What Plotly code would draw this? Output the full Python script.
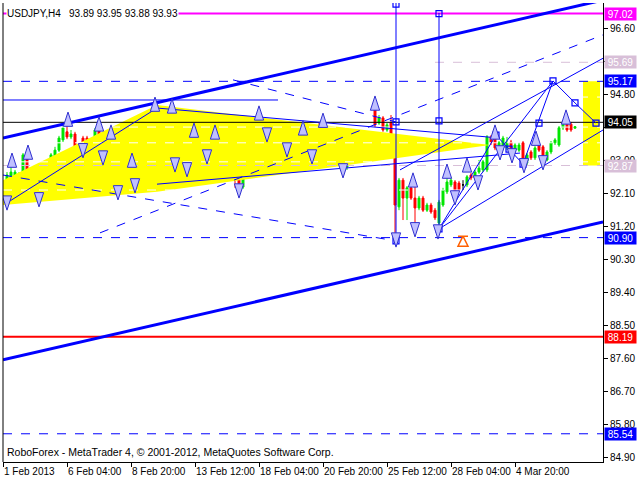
import plotly.graph_objects as go

# ---------------- data ----------------
opens = [92.28,91.79,92.53,92.56,92.56,92.56,93.10,92.75,92.47,92.34,92.47,92.34,92.83,93.10,93.29,93.57,93.79,93.65,93.73,93.29,
         93.62,93.62,93.29,93.51,93.84,93.16,93.29,93.65,93.57,93.24,92.56,92.61,92.75,92.69,92.61,92.56,93.08,93.29,93.51,94.33,
         94.25,93.90,94.33,93.92,93.24,93.43,93.35,93.08,93.35,93.43,93.49,93.35,93.49,93.62,93.57,93.24,93.16,92.88,92.75,92.53,
         92.28,93.35,93.51,93.65,94.11,93.84,94.03,93.84,93.92,93.92,93.76,93.65,93.57,93.49,93.49,93.51,93.70,93.21,93.35,93.76,
         93.70,93.65,93.49,93.51,93.38,93.10,92.83,93.10,93.02,93.16,93.21,93.29,93.43,94.52,94.03,94.17,93.84,94.03,93.38,91.74,
         92.47,91.98,92.26,91.98,91.71,91.98,91.65,91.79,91.65,91.30,91.79,92.15,92.34,92.42,92.39,92.34,92.34,92.61,92.53,92.69,
         92.75,92.75,93.65,93.65,93.35,93.35,93.35,93.51,93.29,93.29,93.49,92.94,93.24,93.08,93.43,93.38,93.02,93.24,93.49,93.43,
         93.90,94.06,94.00,93.89]
highs = [92.34,92.69,92.94,92.75,92.69,93.21,93.16,92.80,92.53,92.53,92.53,92.88,93.21,93.38,93.68,93.95,94.06,93.84,93.79,93.49,
         93.68,93.68,93.57,93.90,93.90,93.57,93.68,93.76,93.62,93.29,92.75,92.80,92.80,92.75,92.67,93.13,93.35,93.57,94.50,94.44,
         94.30,94.22,94.39,93.98,93.49,93.49,93.40,93.76,93.76,93.70,93.54,93.57,93.65,93.68,93.62,93.29,93.21,92.94,92.80,92.58,
         93.57,93.70,93.62,94.17,94.17,94.09,94.09,94.03,93.98,93.98,93.81,93.70,93.62,93.59,93.68,93.90,94.03,93.43,93.76,94.03,
         94.03,93.70,93.70,93.57,93.43,93.16,93.16,93.16,93.29,93.40,93.43,93.49,93.49,94.58,94.25,94.22,94.03,94.25,93.43,92.53,
         92.53,92.31,92.31,92.39,92.04,92.04,91.85,91.85,91.71,91.93,92.26,92.61,92.53,92.47,92.45,92.47,92.61,92.67,92.75,93.02,
         93.02,93.70,93.70,93.70,93.54,93.68,93.65,93.57,93.49,93.49,93.54,93.21,93.29,93.40,93.49,93.43,93.29,93.54,93.62,93.95,
         94.11,94.11,94.06,93.95]
lows = [91.93,91.71,92.42,92.47,92.50,92.50,92.64,92.50,92.15,91.98,92.28,92.28,92.78,93.05,93.24,93.51,93.59,93.59,93.24,93.24,
        93.29,93.18,93.24,93.46,93.38,93.08,93.24,93.59,93.16,92.12,92.26,92.53,92.34,92.34,92.47,92.50,93.02,93.24,93.46,94.11,
        93.84,93.84,93.38,92.94,93.18,93.18,92.80,93.02,93.29,93.38,93.29,93.29,93.29,93.24,93.16,92.97,92.83,92.64,92.26,92.20,
        92.23,93.29,93.29,93.59,93.84,93.79,93.79,93.79,93.87,93.51,93.51,93.43,93.43,93.38,93.43,93.46,93.51,93.16,93.29,93.51,
        93.46,93.43,93.43,93.29,93.02,92.75,92.75,92.97,92.97,93.10,93.16,93.24,93.32,93.92,93.98,93.79,93.79,93.32,90.89,91.65,
        91.38,91.38,91.93,91.11,91.65,91.60,91.60,91.55,91.38,91.16,91.74,92.09,92.28,92.01,92.15,92.20,92.28,92.47,92.47,92.64,
        92.69,92.69,93.43,93.29,93.29,93.29,93.29,93.16,93.24,93.24,92.88,92.88,93.02,93.02,93.24,92.97,92.97,93.18,93.43,93.38,
        93.84,93.79,93.79,93.88]
closes = [92.06,92.61,92.69,92.69,92.64,93.16,92.69,92.56,92.34,92.47,92.34,92.83,93.16,93.29,93.62,93.90,93.65,93.73,93.29,93.43,
          93.35,93.24,93.51,93.84,93.43,93.49,93.62,93.70,93.21,92.67,92.69,92.75,92.53,92.53,92.53,93.08,93.29,93.51,94.44,94.20,
          93.90,94.17,93.43,93.21,93.43,93.24,93.08,93.29,93.65,93.62,93.35,93.51,93.49,93.29,93.21,93.02,92.88,92.69,92.53,92.28,
          93.51,93.51,93.43,94.11,93.90,94.03,93.84,93.98,93.92,93.57,93.57,93.49,93.49,93.49,93.62,93.84,93.57,93.38,93.70,93.57,
          93.51,93.49,93.65,93.35,93.08,92.83,93.10,93.02,93.24,93.35,93.35,93.43,93.38,93.98,94.17,93.84,93.98,93.38,91.79,92.47,
          91.98,92.26,91.98,91.71,91.98,91.65,91.79,91.60,91.44,91.87,92.20,92.42,92.47,92.06,92.20,92.34,92.56,92.53,92.69,92.80,
          92.97,93.65,93.49,93.35,93.49,93.62,93.49,93.29,93.43,93.43,92.94,93.16,93.08,93.35,93.29,93.02,93.24,93.49,93.57,93.90,
          94.06,93.84,93.84,93.93]
doji_bars = [52, 68, 73, 115]

tick_bars = [0, 16, 32, 48, 64, 80, 96, 112, 128]
tick_labels = ["1 Feb 2013", "6 Feb 04:00", "8 Feb 20:00", "13 Feb 12:00", "18 Feb 04:00",
               "20 Feb 20:00", "25 Feb 12:00", "28 Feb 04:00", "4 Mar 20:00"]
y_ticks = [84.90, 85.80, 86.70, 87.60, 88.50, 89.40, 90.30, 91.20, 92.10, 93.00, 93.90, 94.80, 95.70, 96.60]
y_hidden = [93.90, 95.70]   # tick labels covered by level labels

# horizontal levels: price, colour, dash, width, start bar, end bar
levels = [
    (97.02, "#FF00FF", "solid", 2, 0, 150),
    (95.69, "#D8BFD8", "dash", 1, 108, 150),
    (95.17, "#0000FF", "dash", 1, 0, 150),
    (94.05, "#000000", "solid", 1, 0, 150),
    (92.87, "#D8BFD8", "dash", 1, 0, 150),
    (90.90, "#0000FF", "dash", 1, 0, 150),
    (88.19, "#FF0000", "solid", 2, 0, 150),
    (85.54, "#0000FF", "dash", 1, 0, 150),
    (94.66, "#0000FF", "solid", 1, 0, 68.75),
]
label_levels = [(97.02, "#FF00FF"), (95.69, "#D8BFD8"), (95.17, "#0000FF"), (94.05, "#000000"),
                (92.87, "#D8BFD8"), (90.90, "#0000FF"), (88.19, "#FF0000"), (85.54, "#0000FF")]
# white dashed guide levels (only visible over the yellow zones)
white_levels = [94.74, 93.92, 93.49, 92.97, 92.20]

# yellow zones (bar, price)
yellow_tri_x = [0, 38.5, 121.75, 38.5, 0]
yellow_tri_y = [92.47, 94.52, 93.43, 92.15, 91.79]
yellow_box_x = [145, 149.25, 149.25, 145]
yellow_box_y = [95.17, 95.17, 92.87, 92.87]

# thick channel lines
channel = [((0, 93.62), (150, 97.39)), ((0, 87.56), (150, 91.33))]

# thin solid lines
solid_lines = [
    ((1, 91.85), (38.5, 94.44)),
    ((38.5, 94.44), (124.25, 93.62)),
    ((38.5, 92.36), (129.25, 93.21)),
    ((98.25, 97.31), (98.25, 90.81)),
    ((109, 97.04), (109, 91.14)),
    ((109, 91.14), (137.5, 95.18)),
    ((109, 91.14), (150, 93.84)),
    ((99.25, 92.75), (150, 95.80)),
]
# wave path (bar, price)
wave_x = [109, 123.25, 130, 137.5, 143, 148.25]
wave_y = [91.14, 93.70, 92.91, 95.18, 94.58, 94.03]

# thin dashed lines
dashed_lines = [
    ((24.25, 91.03), (150, 96.44)),
    ((0, 92.61), (98.25, 90.81)),
    ((57.5, 95.21), (98.25, 94.06)),
]
squares_x = [98.25, 98.25, 98.25, 109, 109, 109, 123.25, 126.5, 130, 134, 137.5, 143, 148.25]
squares_y = [97.28, 94.06, 90.81, 97.02, 94.09, 91.14, 93.70, 93.32, 92.91, 94.03, 95.18, 94.58, 94.03]

up_x = [2.25, 6.25, 16.25, 24, 27, 32.25, 38, 42.25, 47.75, 53, 64, 75, 80, 93, 102.5, 111, 116, 123, 133.25, 140.75]
up_y = [93.21, 93.43, 94.33, 94.20, 93.98, 93.21, 94.74, 94.69, 94.03, 93.98, 94.50, 94.09, 94.30, 94.77, 92.67, 92.91, 93.08, 93.98, 93.81, 94.39]
dn_x = [1, 9, 20, 25, 28.75, 33, 43, 46, 51, 59, 66, 71, 77.25, 85, 98.25, 103, 108.75, 113, 118.75, 124.25, 127.25, 130.25, 135]
dn_y = [91.65, 91.74, 93.08, 92.88, 91.93, 92.12, 92.69, 92.56, 92.91, 91.98, 93.51, 93.10, 92.91, 92.53, 90.64, 90.92, 90.86, 91.79, 92.20, 93.02, 92.94, 92.67, 92.75]
buy_x = [115]
buy_y = [90.94]

# ---------------- figure ----------------
FONT = "Liberation Sans"
fig = go.Figure()

fig.add_trace(go.Scatter(x=yellow_tri_x, y=yellow_tri_y, fill="toself", fillcolor="#FFFF00",
                         mode="none", hoverinfo="skip"))
fig.add_trace(go.Scatter(x=yellow_box_x, y=yellow_box_y, fill="toself", fillcolor="#FFFF00",
                         mode="none", hoverinfo="skip"))
for p in white_levels:
    fig.add_trace(go.Scatter(x=[0, 150], y=[p, p], mode="lines",
                             line=dict(color="white", dash="dash", width=1), hoverinfo="skip"))

for (p, col, dash, w, b0, b1) in levels:
    fig.add_trace(go.Scatter(x=[b0, b1], y=[p, p], mode="lines",
                             line=dict(color=col, dash=dash, width=w), hoverinfo="skip"))

for (a, b) in solid_lines:
    fig.add_trace(go.Scatter(x=[a[0], b[0]], y=[a[1], b[1]], mode="lines",
                             line=dict(color="#0000FF", width=1), hoverinfo="skip"))
fig.add_trace(go.Scatter(x=wave_x, y=wave_y, mode="lines",
                         line=dict(color="#0000FF", width=1), hoverinfo="skip"))
for (a, b) in dashed_lines:
    fig.add_trace(go.Scatter(x=[a[0], b[0]], y=[a[1], b[1]], mode="lines",
                             line=dict(color="#0000FF", width=1, dash="dash"), hoverinfo="skip"))
for (a, b) in channel:
    fig.add_trace(go.Scatter(x=[a[0], b[0]], y=[a[1], b[1]], mode="lines",
                             line=dict(color="#0000FF", width=3), hoverinfo="skip"))

idx = list(range(len(opens)))
norm = [i for i in idx if i not in doji_bars]
fig.add_trace(go.Candlestick(
    x=norm, open=[opens[i] for i in norm], high=[highs[i] for i in norm],
    low=[lows[i] for i in norm], close=[closes[i] for i in norm],
    increasing=dict(line=dict(color="#00E600", width=1), fillcolor="#00E600"),
    decreasing=dict(line=dict(color="#FF0000", width=1), fillcolor="#FF0000"),
    whiskerwidth=0, hoverinfo="skip"))
fig.add_trace(go.Candlestick(
    x=doji_bars, open=[opens[i] for i in doji_bars], high=[highs[i] for i in doji_bars],
    low=[lows[i] for i in doji_bars], close=[closes[i] for i in doji_bars],
    increasing=dict(line=dict(color="#000000", width=1), fillcolor="#000000"),
    decreasing=dict(line=dict(color="#000000", width=1), fillcolor="#000000"),
    whiskerwidth=0, hoverinfo="skip"))

fig.add_trace(go.Scatter(x=squares_x, y=squares_y, mode="markers",
                         marker=dict(symbol="square-open", size=6, color="#0000FF", line=dict(width=1.2)),
                         hoverinfo="skip"))
fig.add_trace(go.Scatter(x=up_x, y=up_y, mode="markers",
                         marker=dict(symbol="arrow", size=15, color="#C0C0FF",
                                     line=dict(color="#3030D0", width=1)), hoverinfo="skip"))
fig.add_trace(go.Scatter(x=dn_x, y=dn_y, mode="markers",
                         marker=dict(symbol="arrow", angle=180, size=15, color="#C0C0FF",
                                     line=dict(color="#3030D0", width=1)), hoverinfo="skip"))
fig.add_trace(go.Scatter(x=buy_x, y=buy_y, mode="markers",
                         marker=dict(symbol="arrow-bar-up-open", size=10, color="#FF6000",
                                     line=dict(width=1.5)), hoverinfo="skip"))

annotations = []
for (p, col) in label_levels:
    annotations.append(dict(x=1, xref="paper", y=p, yref="y", xanchor="left", yanchor="middle",
                            text=f"{p:.2f}", showarrow=False, bgcolor=col, width=31, height=12,
                            font=dict(family=FONT, size=10, color="white"), borderpad=0, xshift=1))
annotations.append(dict(x=0, xref="paper", y=1, yref="paper", xanchor="left", yanchor="top",
                        text="USDJPY,H4\u00a0\u00a0 93.89 93.95 93.88 93.93", showarrow=False,
                        bgcolor="white", font=dict(family=FONT, size=10, color="black"),
                        xshift=3, yshift=-4, borderpad=0))
annotations.append(dict(x=0, xref="paper", y=0, yref="paper", xanchor="left", yanchor="bottom",
                        text="RoboForex - MetaTrader 4, © 2001-2012, MetaQuotes Software Corp.",
                        showarrow=False, font=dict(family=FONT, size=10.5, color="black"),
                        xshift=2, yshift=2))

fig.update_layout(
    width=640, height=480, margin=dict(l=3, r=37, t=3, b=18),
    paper_bgcolor="white", plot_bgcolor="white", showlegend=False,
    annotations=annotations,
    shapes=[dict(type="line", xref="paper", yref="paper", x0=0, x1=0, y0=0, y1=1,
                 line=dict(color="black", width=1))],
    xaxis=dict(range=[0, 150], tickvals=tick_bars, ticktext=tick_labels, ticks="outside",
               ticklen=4, tickcolor="black", showgrid=False, zeroline=False, showline=True,
               linecolor="black", ticklabelposition="outside right", tickangle=0,
               automargin=False, rangeslider=dict(visible=False),
               tickfont=dict(family=FONT, size=10, color="black")),
    yaxis=dict(range=[84.769, 97.310], side="right", tickvals=y_ticks,
               ticktext=["" if v in y_hidden else f"{v:.2f}" for v in y_ticks],
               ticks="outside", ticklen=4, automargin=False,
               tickcolor="black", showgrid=False, zeroline=False, showline=True, linecolor="black",
               tickfont=dict(family=FONT, size=10, color="black")),
)

fig.write_html("out.html", config={"displayModeBar": False},
               post_script="document.body.style.margin='0px';")
